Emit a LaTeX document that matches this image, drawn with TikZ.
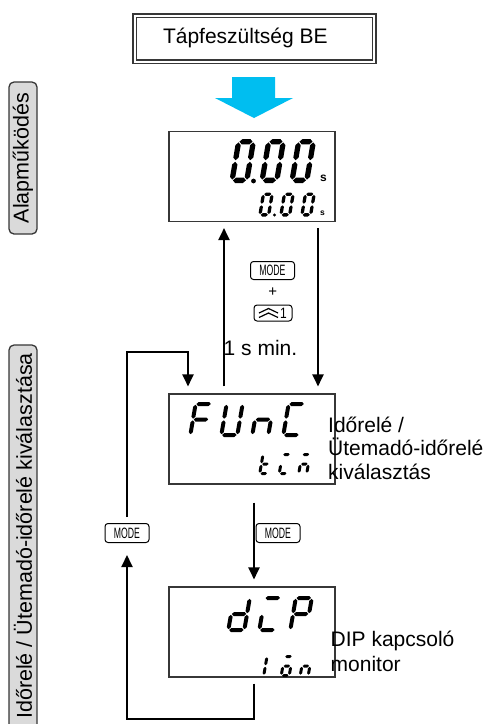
\documentclass[tikz,border=0pt]{standalone}
\usepackage{fontspec}
\setmainfont{Liberation Sans}
\usepackage{graphicx}
\usetikzlibrary{arrows.meta,calc}
\definecolor{skyblue}{RGB}{0,190,240}
\definecolor{sidegray}{RGB}{218,218,218}
\definecolor{edgegray}{RGB}{55,55,55}
\def\slantf{0.17}
\def\dG{0.8}
% horizontal segment: #1 v, #2 u1, #3 u2
\newcommand\hseg[3]{\fill ({#2},{#1}) -- ({#2+\dT/2},{#1+\dT/2}) -- ({#3-\dT/2},{#1+\dT/2}) -- ({#3},{#1}) -- ({#3-\dT/2},{#1-\dT/2}) -- ({#2+\dT/2},{#1-\dT/2}) -- cycle;}
% vertical segment: #1 u, #2 v1, #3 v2
\newcommand\vseg[3]{\fill ({#1},{#2}) -- ({#1+\dT/2},{#2+\dT/2}) -- ({#1+\dT/2},{#3-\dT/2}) -- ({#1},{#3}) -- ({#1-\dT/2},{#3-\dT/2}) -- ({#1-\dT/2},{#2+\dT/2}) -- cycle;}
\newcommand\Sga{\hseg{\dH-\dT/2}{\dT/2+\dG}{\dW-\dT/2-\dG}}
\newcommand\Sgg{\hseg{\dH/2}{\dT/2+\dG}{\dW-\dT/2-\dG}}
\newcommand\Sgd{\hseg{\dT/2}{\dT/2+\dG}{\dW-\dT/2-\dG}}
\newcommand\Sgf{\vseg{\dT/2}{\dH/2+\dG}{\dH-\dT/2-\dG}}
\newcommand\Sge{\vseg{\dT/2}{\dT/2+\dG}{\dH/2-\dG}}
\newcommand\Sgb{\vseg{\dW-\dT/2}{\dH/2+\dG}{\dH-\dT/2-\dG}}
\newcommand\Sgc{\vseg{\dW-\dT/2}{\dT/2+\dG}{\dH/2-\dG}}
% seven-segment glyph: x, baseline y, width, height, thickness, segments
\newcommand\SSD[6]{%
  \begin{scope}[shift={(#1,#2)},xslant=\slantf,yscale=-1]
  \def\dW{#3}\def\dH{#4}\def\dT{#5}
  \foreach \q in {#6}{\csname Sg\q\endcsname}
  \end{scope}}

\begin{document}
\begin{tikzpicture}[x=1pt,y=-1pt,
  conn/.style={line width=2pt,draw=black},
  arr/.style={conn,-{Triangle[width=11pt,length=12pt]}},
  lcd/.style={draw=edgegray,line width=1.1pt,minimum width=166pt,minimum height=90pt,inner sep=0pt},
  key/.style={draw=black,line width=1pt,rounded corners=3pt,inner sep=0pt,minimum width=44pt,minimum height=19pt,font=\fontsize{15}{15}\selectfont},
  sidebox/.style={draw=edgegray,fill=sidegray,line width=1.3pt,rounded corners=5pt,rotate=90,minimum height=28pt,inner sep=0pt,font=\fontsize{21.5}{21.5}\selectfont},
  lbl/.style={inner sep=0pt,anchor=base west,font=\fontsize{21}{23.5}\selectfont},
  pwbox/.style={draw=edgegray,double=white,double distance=2pt,line width=1.3pt,minimum width=239.7pt,minimum height=46pt,inner sep=0pt,text height=15pt,text depth=5pt,font=\fontsize{21}{21}\selectfont},
  unit/.style={inner sep=0pt,font=\bfseries}
]
\fill[white] (0,0) rectangle (491,724);
\useasboundingbox (0,0) rectangle (491,724);
\clip (0,0) rectangle (491,724);

% side labels
\node[sidebox,minimum width=152pt] (sa) at (23,158) {Alapműködés};
\node[sidebox,minimum width=390pt] (sb) at (23,540) {\hspace{8pt}Időrelé / Ütemadó-időrelé kiválasztása};

% power box
\node[pwbox] (pw) at (254.5,38.65) {\hbox to 183pt{Tápfeszültség BE\hfil}};

% blue arrow
\fill[skyblue] (232,77) -- (275,77) -- (275,98) -- (293,98) -- (254,118) -- (215,98) -- (232,98) -- cycle;

% LCD boxes
\node[lcd] (lcd1) at (252,176.5) {};
\node[lcd] (func) at (252,439) {};
\node[lcd] (dip) at (252,632) {};

% LCD1 contents
\SSD{229}{183}{20}{44}{5.3}{a,b,c,d,e,f}
\SSD{259}{183}{20}{44}{5.3}{a,b,c,d,e,f}
\SSD{289}{183}{20}{44}{5.3}{a,b,c,d,e,f}
\fill (253.5,181) circle (2.4pt);
\node[unit,font=\fontsize{12}{12}\selectfont\bfseries] (s1) at (323.5,178.5) {s};
\SSD{258}{216.5}{12}{24}{3.3}{a,b,c,d,e,f}
\SSD{279}{216.5}{12}{24}{3.3}{a,b,c,d,e,f}
\SSD{300}{216.5}{12}{24}{3.3}{a,b,c,d,e,f}
\fill (274.5,215) circle (1.6pt);
\node[unit,font=\fontsize{8.5}{8.5}\selectfont\bfseries] (s2) at (322.5,213) {s};

% FUNC contents
\SSD{188}{437}{20}{35}{4}{a,e,f,g}
\SSD{219}{437}{20}{35}{4}{b,c,d,e,f}
\SSD{250}{437}{20}{35}{4}{c,e,g}
\SSD{281}{437}{20}{35}{4}{a,d,e,f}
\SSD{258}{475}{11}{22}{3}{d,e,f,g}
\SSD{277.5}{475}{11}{22}{3}{a,d,e}
\SSD{297}{475}{11}{22}{3}{a,c,e,g}

% DIP contents
\SSD{226}{632}{20}{36}{4}{b,c,d,e,g}
\SSD{257}{632}{20}{36}{4}{a,d,e}
\SSD{288}{632}{20}{36}{4}{a,b,e,f,g}
\SSD{262}{677}{11}{22}{3}{e,f}
\SSD{279.5}{677}{11}{22}{3}{a,c,d,e,g}
\SSD{298.5}{677}{11}{22}{3}{c,e,g}

% keys
\node[key,minimum height=18pt] (k1) at (272.5,270.5) {\scalebox{0.58}[1]{MODE}};
\node[inner sep=0pt,font=\fontsize{15}{15}\selectfont] (plus) at (272.7,291.7) {+};
\node[key,minimum width=38pt,minimum height=16pt] (k2) at (273,313) {\hspace{21pt}\scalebox{0.8}[1]{1}};
\draw[line width=1.2pt,line join=miter] ($(k2.center)+(-14,0)$) -- ++(9.5,-4.5) -- ++(9.5,4.5);
\draw[line width=1.2pt,line join=miter] ($(k2.center)+(-14,4.5)$) -- ++(9.5,-4.5) -- ++(9.5,4.5);
\node[key] (mkL) at (127,533) {\scalebox{0.58}[1]{MODE}};
\node[key] (mkM) at (278,533) {\scalebox{0.58}[1]{MODE}};

% text labels
\node[lbl] (tmin) at (223.5,355) {1 s min.};
\node[lbl] (lf) at (328,432) {\vtop{\hbox{Időrelé /}\hbox{Ütemadó-időrelé}\hbox{kiválasztás}}};
\node[lbl] (ld) at (330.5,646) {\vtop{\baselineskip=25.5pt\hbox{DIP kapcsoló}\hbox{monitor}}};

% connectors
\draw[arr] ($(func.north)+(-28,-7)$) -- ($(lcd1.south)+(-28,6)$);
\draw[arr] ($(lcd1.south)+(66,6)$) -- ($(func.north)+(66,-7)$);
\draw[arr] ($(func.south)+(2,18)$) -- ($(dip.north)+(2,-7)$);
\draw[arr] ($(dip.south)+(2,6)$) -- ++(0,35) -| ($(mkL.south)+(0,12)$);
\draw[arr] ($(mkL.north)+(0,-6)$) |- ($(func.north)+(-64,-41)$) -- ($(func.north)+(-64,-7)$);
\end{tikzpicture}
\end{document}
